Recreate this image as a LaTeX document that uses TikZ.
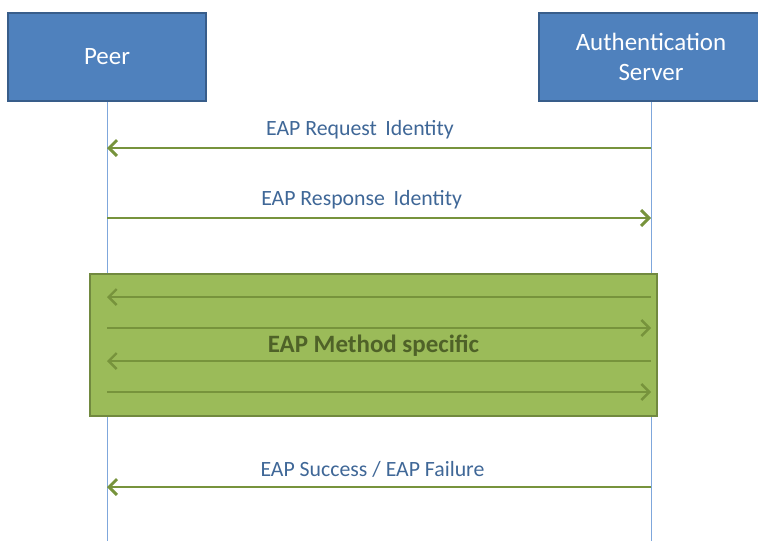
\documentclass[tikz,border=0pt]{standalone}
\usepackage{fontspec}
\setmainfont{Carlito}
\usetikzlibrary{arrows.meta}

\definecolor{actorfill}{HTML}{4F81BD}
\definecolor{actorline}{HTML}{385D8A}
\definecolor{msggreen}{HTML}{77933C}
\definecolor{methodfill}{HTML}{9BBB59}
\definecolor{methodline}{HTML}{71893F}
\definecolor{methodtext}{HTML}{4F6228}
\definecolor{labelblue}{HTML}{3F6797}
\definecolor{lifeblue}{HTML}{7FA7DC}

\tikzset{
    actor/.style={draw=actorline, fill=actorfill, line width=1.4pt, text=white,
        minimum height=1.76cm, align=center, font=\fontsize{14.2}{17}\selectfont},
    lifeline/.style={draw=lifeblue, line width=0.5pt},
    msg/.style={draw=msggreen, line width=1.7pt, -{Straight Barb[length=4.5pt,width=9pt]}},
    msglabel/.style={text=labelblue, font=\fontsize{12.4}{15}\selectfont, above=1pt},
    method/.style={draw=methodline, fill=methodfill, line width=1.4pt,
        minimum width=11.34cm, minimum height=2.84cm},
}

\begin{document}
\begin{tikzpicture}[x=0.02cm, y=-0.02cm]
\useasboundingbox (0,0) rectangle (758,541);

\node[actor, minimum width=3.96cm] (peer) at (107,57) {Peer};
\node[actor, minimum width=4.48cm] (server) at (651,57) {Authentication\\Server};

% lifelines
\coordinate (peerend) at (peer.south |- 0,541);
\coordinate (serverend) at (server.south |- 0,541);
\draw[lifeline] (peer.south) -- (peerend);
\draw[lifeline] (server.south) -- (serverend);

% points on the lifelines
\foreach \y/\n in {148/1, 218/2, 297/3, 328/4, 361/5, 392/6, 487/7} {
    \coordinate (p\n) at (peer.south |- 0,\y);
    \coordinate (s\n) at (server.south |- 0,\y);
}

\draw[msg] (s1) -- node[msglabel, pos=0.535] {EAP Request\, Identity} (p1);
\draw[msg] (p2) -- node[msglabel, pos=0.468] {EAP Response\, Identity} (s2);

\node[method] (method) at (373.5,345) {};
\path[every edge/.style={msg, line width=1.4pt}]
    (s3) edge (p3)
    (p4) edge (s4)
    (s5) edge (p5)
    (p6) edge (s6);
\node[text=methodtext, font=\fontsize{14.2}{17}\selectfont\bfseries] (methodlabel) at (373.5,346) {EAP Method specific};

\draw[msg] (s7) -- node[msglabel, pos=0.512] {EAP Success / EAP Failure} (p7);
\end{tikzpicture}
\end{document}
